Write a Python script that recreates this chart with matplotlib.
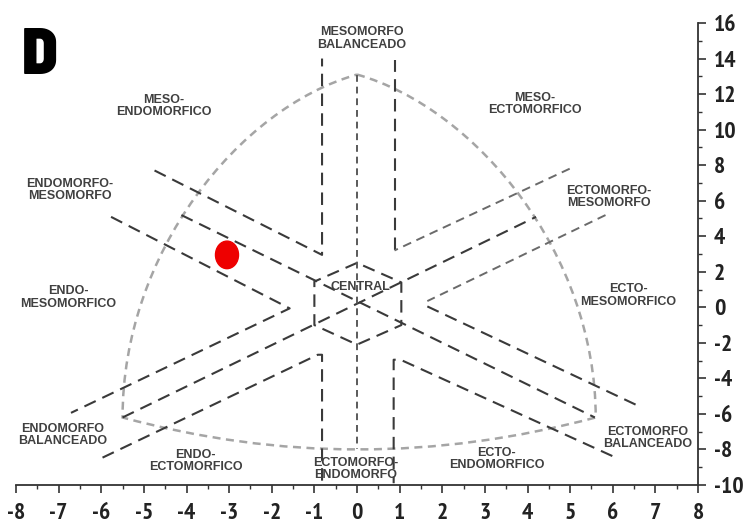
import matplotlib
matplotlib.use("Agg")
import matplotlib.pyplot as plt
from matplotlib.path import Path
from matplotlib.patches import PathPatch, Ellipse
from matplotlib.ticker import MultipleLocator
from matplotlib import font_manager

plt.rcParams['axes.unicode_minus'] = False
weights = {}
for f in font_manager.fontManager.ttflist:
    w = f.weight if isinstance(f.weight, int) else 400
    weights.setdefault(f.name, set()).add(w)

def pick(prefs, minw, default):
    for p in prefs:
        if p in weights and max(weights[p]) >= minw:
            return p
    return default

NARROW = pick(['Liberation Sans Narrow', 'Arial Narrow', 'Archivo Narrow', 'PT Sans Narrow',
               'Roboto Condensed', 'Barlow Semi Condensed', 'Barlow Condensed',
               'Saira SemiCondensed'], 700, 'Liberation Sans')
HEAVY = pick(['Barlow Semi Condensed', 'Saira SemiCondensed', 'Anton'], 800, 'Anton')

# ---- data ----
subject_x = [-3.05]
subject_y = [2.95]

# dark dashed grid lines (x list, y list)
ul_poly_x = [-4.75, -0.82, -0.82]
ul_poly_y = [7.7, 2.95, 14.0]
ur_poly_x = [4.99, 0.88, 0.88]
ur_poly_y = [7.8, 3.2, 13.9]
l_chev_x = [-5.77, -1.58, -6.71]
l_chev_y = [5.09, -0.06, -5.94]
r_chev_up_x = [5.83, 1.65]
r_chev_up_y = [5.19, 0.35]
r_chev_lo_x = [1.65, 6.62]
r_chev_lo_y = [0.05, -5.57]
ll_poly_x = [-5.97, -0.92, -0.82, -0.82]
ll_poly_y = [-8.46, -2.67, -2.67, -9.9]
lr_poly_x = [5.99, 1.02, 0.86, 0.86]
lr_poly_y = [-8.37, -2.95, -2.95, -9.9]
diag1_x = [-4.12, 5.58]
diag1_y = [5.19, -6.2]
diag2_x = [-5.5, 4.2]
diag2_y = [-6.2, 5.09]
hex_x = [0.0, -1.0, -1.0, 0.0, 1.04, 1.04, 0.0]
hex_y = [2.5, 1.45, -1.0, -2.1, -1.0, 1.4, 2.5]
vert_x = [0.0, 0.0]
vert_y = [13.1, -8.0]

# outline arcs (Bezier control points)
top_pt = (0.0, 13.1)
left_pt = (-5.5, -6.2)
right_pt = (5.6, -6.2)
right_arc_ctrl = [(2.8, 11.2), (5.6, 3.0)]
left_arc_ctrl = [(-2.8, 11.2), (-5.5, 3.0)]
bottom_arc_ctrl = [(0.0, -9.8)]

region_labels = ["MESOMORFO\nBALANCEADO", "MESO-\nENDOMORFICO", "MESO-\nECTOMORFICO",
                 "ENDOMORFO-\nMESOMORFO", "ECTOMORFO-\nMESOMORFO", "ENDO-\nMESOMORFICO",
                 "ECTO-\nMESOMORFICO", "ENDOMORFO\nBALANCEADO", "ECTOMORFO\nBALANCEADO",
                 "ENDO-\nECTOMORFICO", "ECTO-\nENDOMORFICO", "ECTOMORFO-\nENDOMORFO", "CENTRAL"]
label_x = [0.12, -4.54, 4.17, -6.73, 5.9, -6.78, 6.37, -6.91, 6.81, -3.79, 3.27, -0.03, 0.08]
label_y = [15.13, 11.32, 11.43, 6.59, 6.22, 0.54, 0.67, -7.2, -7.36, -8.65, -8.54, -9.1, 1.14]

x_ticks = list(range(-8, 9))
y_ticks = list(range(-10, 17, 2))

# ---- figure ----
fig = plt.figure(figsize=(7.43, 5.25), dpi=100)
ax = fig.add_axes([16/743, 40/525, 682/743, 462/525])
ax.set_xlim(-8, 8)
ax.set_ylim(-10, 16)

dark = '#3a3a3a'
mid = '#6a6a6a'
light = '#a5a5a5'
dark_kw = dict(color=dark, lw=1.5, dashes=(6, 3.5), solid_capstyle='butt')
mid_kw = dict(color=mid, lw=1.4, dashes=(4.5, 3), solid_capstyle='butt')

for xs, ys in [(ul_poly_x, ul_poly_y), (l_chev_x, l_chev_y), (r_chev_lo_x, r_chev_lo_y),
               (ll_poly_x, ll_poly_y), (lr_poly_x, lr_poly_y), (diag1_x, diag1_y),
               (diag2_x, diag2_y), (hex_x, hex_y)]:
    ax.plot(xs, ys, **dark_kw)
ax.plot(ur_poly_x[1:], ur_poly_y[1:], **dark_kw)
ax.plot(ur_poly_x[:2], ur_poly_y[:2], **mid_kw)
ax.plot(r_chev_up_x, r_chev_up_y, **mid_kw)
ax.plot(vert_x, vert_y, color='#5a5a5a', lw=1.4, dashes=(3.5, 2.5))

# outline
verts = [top_pt, *right_arc_ctrl, right_pt, *bottom_arc_ctrl, left_pt, *left_arc_ctrl[::-1], top_pt]
codes = [Path.MOVETO, Path.CURVE4, Path.CURVE4, Path.CURVE4, Path.CURVE3, Path.CURVE3,
         Path.CURVE4, Path.CURVE4, Path.CURVE4]
ax.add_patch(PathPatch(Path(verts, codes), fill=False, edgecolor=light, lw=1.8,
                       linestyle=(0, (3.2, 2.2))))

# subject
for sx, sy in zip(subject_x, subject_y):
    ax.add_patch(Ellipse((sx, sy), 0.54, 1.55, color='#ee0000', zorder=5))

for t, lx, ly in zip(region_labels, label_x, label_y):
    ax.text(lx, ly, t, ha='center', va='center', fontsize=9.0, fontweight='bold',
            color='#404040', family='Liberation Sans', linespacing=1.05)

dsize = 40 if HEAVY == 'Anton' else 47
fig.text(39.5/743, 1 - 56.5/525, "D", fontsize=dsize, fontweight=900, family=HEAVY,
         ha='center', va='center', color='black')

for s in ['left', 'top']:
    ax.spines[s].set_visible(False)
ax.spines['right'].set_color('#333333')
ax.spines['bottom'].set_color('#333333')
ax.spines['right'].set_linewidth(1.3)
ax.spines['bottom'].set_linewidth(1.3)
ax.yaxis.tick_right()
ax.set_xticks(x_ticks)
ax.set_yticks(y_ticks)
ax.set_xticklabels([str(v) for v in x_ticks])
ax.set_yticklabels([str(v) for v in y_ticks])
ax.xaxis.set_minor_locator(MultipleLocator(0.5))
ax.yaxis.set_minor_locator(MultipleLocator(1))
lsize = 15 if NARROW == 'Liberation Sans' else 17
ax.tick_params(which='major', direction='out', length=5.5, width=1.2, color='#333333',
               labelsize=lsize)
ax.tick_params(axis='x', which='major', pad=7.5)
ax.tick_params(axis='y', which='major', pad=6)
ax.tick_params(which='minor', direction='out', length=3, width=1.0, color='#333333')
for lab in ax.get_xticklabels() + ax.get_yticklabels():
    lab.set_family(NARROW)
    lab.set_fontweight('bold')
    lab.set_color('#222222')

fig.savefig('out.png', dpi=100)
